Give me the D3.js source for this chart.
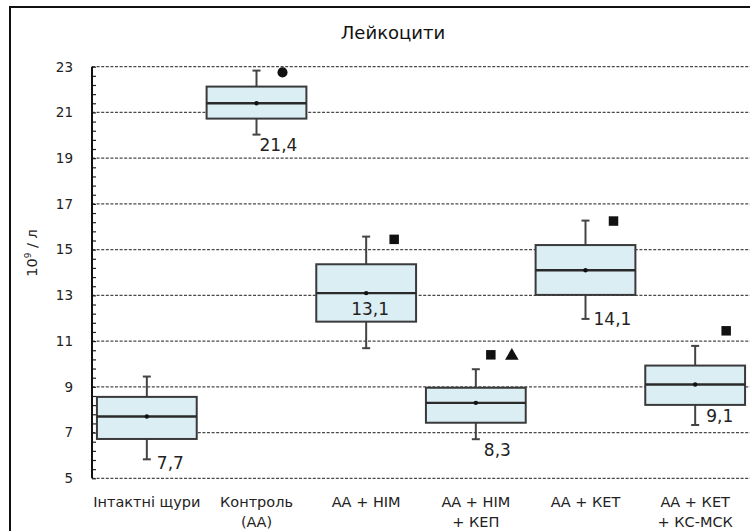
<!DOCTYPE html>
<html>
<head>
<meta charset="utf-8">
<script src="https://cdn.jsdelivr.net/npm/d3@7"></script>
<style>
  html, body { margin: 0; padding: 0; background: #fff; }
  svg { display: block; font-family: "DejaVu Sans", "Liberation Sans", sans-serif; }
</style>
</head>
<body>
<svg id="chart" width="750" height="531"></svg>
<script>
// Leukocyte counts (10^9 / l) per experimental group
const categories = [
  ["Інтактні щури"],
  ["Контроль", "(АА)"],
  ["АА + НІМ"],
  ["АА + НІМ", "+ КЕП"],
  ["АА + КЕТ"],
  ["АА + КЕТ", "+ КС-МСК"]
];
const whiskerLow  = [5.83, 20.03, 10.69, 6.71, 11.97, 7.33];
const q1          = [6.72, 20.73, 11.85, 7.43, 13.02, 8.21];
const median      = [7.7, 21.4, 13.1, 8.3, 14.1, 9.1];
const q3          = [8.56, 22.13, 14.36, 8.96, 15.2, 9.93];
const whiskerHigh = [9.45, 22.83, 15.57, 9.77, 16.27, 10.79];
// significance marks: symbols and the level they sit at
const markSymbols = [[], ["circle"], ["square"], ["square", "triangle"], ["square"], ["square"]];
const markLevel   = [null, 22.75, 15.45, 10.4, 16.25, 11.45];
const yTicks = [5, 7, 9, 11, 13, 15, 17, 19, 21, 23];
const title = "Лейкоцити";

const svg = d3.select("#chart");
const keys = categories.map((c, i) => i);

const x = d3.scaleBand().domain(keys).range([92, 750]).paddingInner(0.09).paddingOuter(0.045);
const y = d3.scaleLinear().domain([5, 23]).range([478.3, 66.7]);
const cx = i => x(i) + x.bandwidth() / 2;

// outer frame
svg.append("rect").attr("x", 10).attr("y", 7).attr("width", 760).attr("height", 540)
  .attr("fill", "none").attr("stroke", "#111").attr("stroke-width", 2);

// title
svg.append("text").attr("x", 393).attr("y", 39).attr("text-anchor", "middle")
  .attr("font-size", 18).attr("fill", "#111").text(title);

// dashed gridlines
svg.append("g").selectAll("line").data(yTicks).join("line")
  .attr("x1", 92).attr("x2", 750).attr("y1", d => y(d)).attr("y2", d => y(d))
  .attr("stroke", "#4a4a4a").attr("stroke-width", 1.3).attr("stroke-dasharray", "3,1.6");

// tick labels
const yAxis = svg.append("g").attr("transform", "translate(92,0)")
  .call(d3.axisLeft(y).tickValues(yTicks).tickSize(0).tickPadding(19).tickFormat(d3.format("d")));
yAxis.select(".domain").remove();
yAxis.selectAll("text").attr("font-size", 13.5).attr("fill", "#222")
  .attr("font-family", "DejaVu Sans, sans-serif");

// minor ticks inside the axis
const minor = d3.range(0, 46).map(k => 5 + k * 0.4);
const yMinor = svg.append("g").attr("transform", "translate(92,0)")
  .call(d3.axisRight(y).tickValues(minor).tickSize(4).tickFormat(""));
yMinor.select(".domain").remove();
yMinor.selectAll("line").attr("stroke", "#222").attr("stroke-width", 1.2);

// axis line
svg.append("line").attr("x1", 92).attr("x2", 92).attr("y1", y(23)).attr("y2", y(5))
  .attr("stroke", "#111").attr("stroke-width", 2);

// y axis title
const yl = svg.append("text").attr("transform", "translate(37,253) rotate(-90)")
  .attr("text-anchor", "middle").attr("font-size", 14.5).attr("fill", "#222");
yl.append("tspan").text("10");
yl.append("tspan").attr("font-size", 9).attr("dy", -6).text("9");
yl.append("tspan").attr("dy", 6).text(" / л");

// boxes
const g = svg.append("g");
const bw = x.bandwidth();
keys.forEach(i => {
  const c = cx(i);
  // whiskers
  [[q3[i], whiskerHigh[i]], [q1[i], whiskerLow[i]]].forEach(([a, b]) => {
    g.append("line").attr("x1", c).attr("x2", c).attr("y1", y(a)).attr("y2", y(b))
      .attr("stroke", "#444").attr("stroke-width", 2);
    g.append("line").attr("x1", c - 4).attr("x2", c + 4).attr("y1", y(b)).attr("y2", y(b))
      .attr("stroke", "#444").attr("stroke-width", 2);
  });
  g.append("rect").attr("x", x(i)).attr("width", bw)
    .attr("y", y(q3[i])).attr("height", y(q1[i]) - y(q3[i]))
    .attr("fill", "#dbeef4").attr("stroke", "#3a3a3a").attr("stroke-width", 2);
  g.append("line").attr("x1", x(i)).attr("x2", x(i) + bw)
    .attr("y1", y(median[i])).attr("y2", y(median[i]))
    .attr("stroke", "#2a2a2a").attr("stroke-width", 2.4);
  g.append("circle").attr("cx", c).attr("cy", y(median[i])).attr("r", 2.2).attr("fill", "#111");
});

// median value labels
const fmt = v => d3.format(".1f")(v).replace(".", ",");
const labelPlace = [
  { ref: "low", dx: 10, dy: 10, anchor: "start" },
  { ref: "low", dx: 3, dy: 16, anchor: "start" },
  { ref: "med", dx: 4, dy: 22, anchor: "middle" },
  { ref: "low", dx: 8, dy: 17, anchor: "start" },
  { ref: "low", dx: 8, dy: 6, anchor: "start" },
  { ref: "low", dx: 11, dy: -3, anchor: "start" }
];
keys.forEach(i => {
  const p = labelPlace[i];
  const base = p.ref === "low" ? y(whiskerLow[i]) : y(median[i]);
  svg.append("text").attr("x", cx(i) + p.dx).attr("y", base + p.dy)
    .attr("text-anchor", p.anchor).attr("font-size", 17).attr("fill", "#222")
    .text(fmt(median[i]));
});

// significance marks
const markDx = [[], [26], [28], [15, 36], [28], [31]];
keys.forEach(i => {
  markSymbols[i].forEach((s, j) => {
    const px = cx(i) + markDx[i][j], py = y(markLevel[i]);
    const type = s === "circle" ? d3.symbolCircle : s === "square" ? d3.symbolSquare : d3.symbolTriangle;
    const size = s === "circle" ? 80 : s === "square" ? 90 : 80;
    svg.append("path").attr("d", d3.symbol(type, size)())
      .attr("transform", `translate(${px},${py + (s === "triangle" ? 1 : 0)})`)
      .attr("fill", "#111");
  });
});

// category labels
keys.forEach(i => {
  const t = svg.append("text").attr("x", cx(i)).attr("y", 507)
    .attr("text-anchor", "middle").attr("font-size", 14.5).attr("fill", "#222");
  categories[i].forEach((line, k) => {
    t.append("tspan").attr("x", cx(i)).attr("dy", k === 0 ? 0 : 20).text(line);
  });
});
</script>
</body>
</html>
